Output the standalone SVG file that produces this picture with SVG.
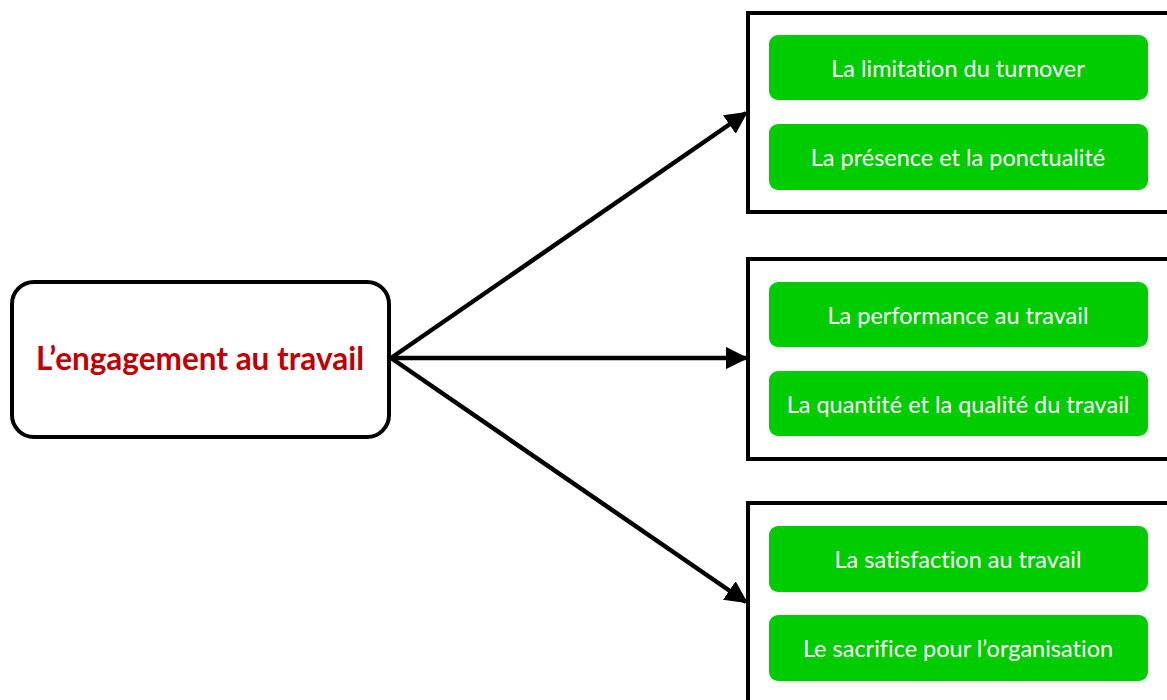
<svg xmlns="http://www.w3.org/2000/svg" width="1167" height="700" viewBox="0 0 1167 700">
  <style>
    .frame { fill: #ffffff; stroke: #000000; stroke-width: 4; }
    .item { fill: #00cc00; }
    .item-text { font-family: Lato, "Open Sans", sans-serif; font-size: 23.5px; fill: #ffffff; text-anchor: middle; dominant-baseline: central; font-variant-ligatures: none; }
    .main-text { font-family: Lato, "Open Sans", sans-serif; font-size: 31.5px; font-weight: bold; fill: #c00000; text-anchor: middle; dominant-baseline: central; font-variant-ligatures: none; }
    .link { stroke: #000000; stroke-width: 4.5; fill: none; marker-end: url(#arrow); }
  </style>
  <defs>
    <marker id="arrow" viewBox="0 0 10 10" refX="9" refY="5" markerWidth="5" markerHeight="5" orient="auto" markerUnits="strokeWidth">
      <path d="M0,0 L10,5 L0,10 Z" fill="#000000"/>
    </marker>
  </defs>
  <rect width="1167" height="700" fill="#ffffff"/>

  <g id="connectors">
    <line class="link" x1="391" y1="358" x2="746" y2="113"/>
    <line class="link" x1="391" y1="358" x2="746" y2="358"/>
    <line class="link" x1="391" y1="358" x2="746" y2="602"/>
  </g>

  <g id="engagement">
    <rect class="frame" x="12" y="282" width="377" height="155" rx="22"/>
    <text class="main-text" x="200" y="358">L’engagement au travail</text>
  </g>

  <g id="group-top">
    <rect class="frame" x="748" y="13" width="440" height="199"/>
    <g id="turnover">
      <rect class="item" x="769" y="35" width="379" height="65" rx="9"/>
      <text class="item-text" x="958" y="68">La limitation du turnover</text>
    </g>
    <g id="presence">
      <rect class="item" x="769" y="124" width="379" height="66" rx="9"/>
      <text class="item-text" x="958" y="157">La présence et la ponctualité</text>
    </g>
  </g>

  <g id="group-middle">
    <rect class="frame" x="748" y="259" width="440" height="200"/>
    <g id="performance">
      <rect class="item" x="769" y="282" width="379" height="65" rx="9"/>
      <text class="item-text" x="958" y="315">La performance au travail</text>
    </g>
    <g id="quantite">
      <rect class="item" x="769" y="371" width="379" height="65" rx="9"/>
      <text class="item-text" x="958" y="404">La quantité et la qualité du travail</text>
    </g>
  </g>

  <g id="group-bottom">
    <rect class="frame" x="748" y="503" width="440" height="220"/>
    <g id="satisfaction">
      <rect class="item" x="769" y="526" width="379" height="66" rx="9"/>
      <text class="item-text" x="958" y="559">La satisfaction au travail</text>
    </g>
    <g id="sacrifice">
      <rect class="item" x="769" y="615" width="379" height="66" rx="9"/>
      <text class="item-text" x="958" y="648">Le sacrifice pour l’organisation</text>
    </g>
  </g>
</svg>
